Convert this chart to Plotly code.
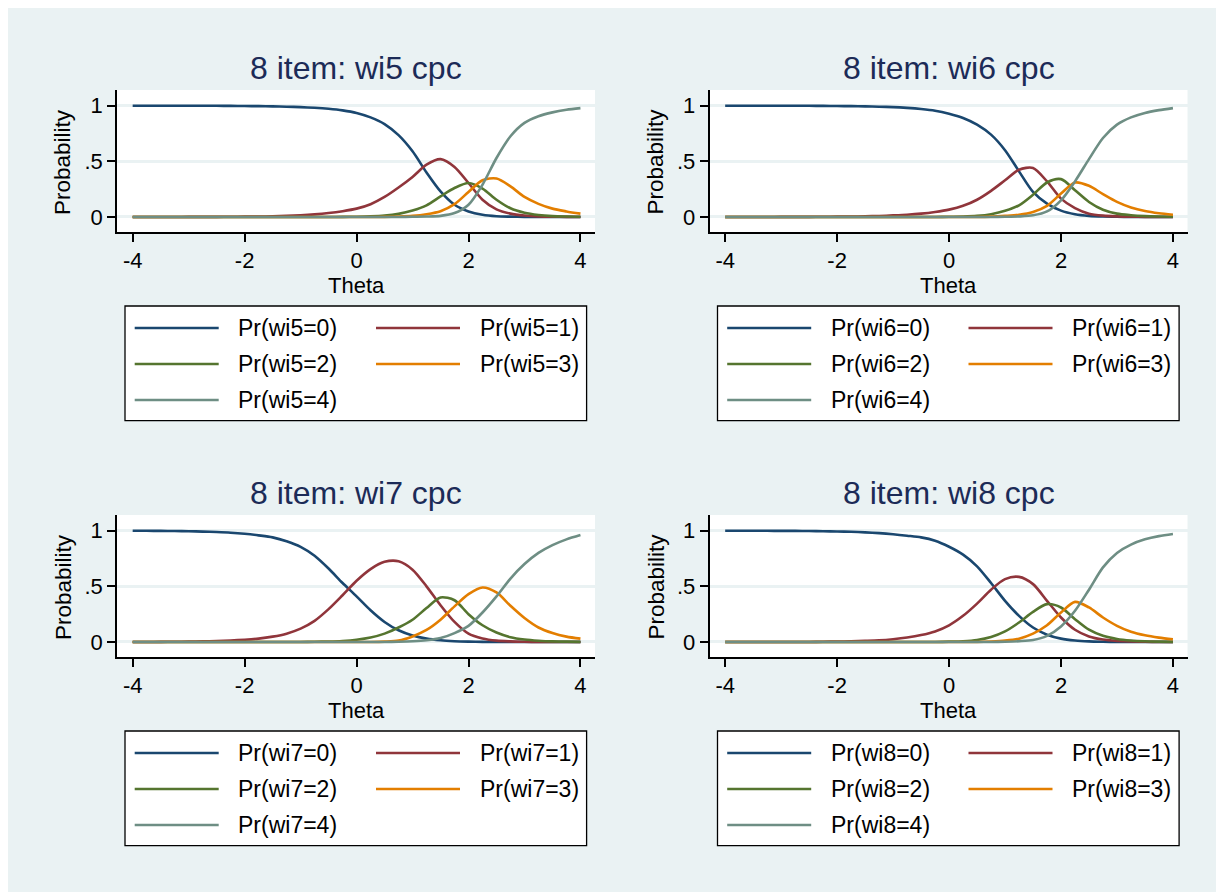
import plotly.graph_objects as go

W, H = 1224, 892

theta = [-4.0, -3.75, -3.5, -3.25, -3.0, -2.75, -2.5, -2.25, -2.0, -1.75, -1.5, -1.25, -1.0,
         -0.75, -0.5, -0.25, 0.0, 0.25, 0.5, 0.75, 1.0, 1.25, 1.5, 1.75, 2.0, 2.25, 2.5,
         2.75, 3.0, 3.25, 3.5, 3.75, 4.0]

# ---- item wi5 ----
wi5_p0 = [1.0, 1.0, 1.0, 1.0, 1.0, 0.999, 0.999, 0.998, 0.997, 0.996, 0.994, 0.991, 0.987, 0.981, 0.972,
          0.958, 0.935, 0.895, 0.835, 0.735, 0.59, 0.40, 0.23, 0.11, 0.05, 0.02, 0.007, 0.003, 0.001,
          0.0, 0.0, 0.0, 0.0]
wi5_p1 = [0.0, 0.0, 0.0, 0.0, 0.001, 0.001, 0.001, 0.002, 0.003, 0.004, 0.006, 0.01, 0.015, 0.023, 0.035,
          0.052, 0.075, 0.115, 0.18, 0.265, 0.36, 0.47, 0.52, 0.45, 0.305, 0.155, 0.068, 0.03, 0.013,
          0.005, 0.002, 0.001, 0.0]
wi5_p2 = [0, 0, 0, 0, 0, 0, 0, 0, 0, 0, 0, 0, 0, 0, 0, 0.001, 0.002, 0.005, 0.012, 0.028, 0.058, 0.105,
          0.185, 0.26, 0.305, 0.255, 0.155, 0.078, 0.038, 0.018, 0.008, 0.004, 0.002]
wi5_p3 = [0, 0, 0, 0, 0, 0, 0, 0, 0, 0, 0, 0, 0, 0, 0, 0, 0, 0, 0.001, 0.004, 0.01, 0.025, 0.052, 0.115,
          0.225, 0.33, 0.345, 0.275, 0.18, 0.118, 0.075, 0.05, 0.03]
wi5_p4 = [0, 0, 0, 0, 0, 0, 0, 0, 0, 0, 0, 0, 0, 0, 0, 0, 0, 0, 0, 0, 0.002, 0.004, 0.01, 0.035, 0.11,
          0.29, 0.53, 0.725, 0.845, 0.905, 0.94, 0.963, 0.978]

# ---- item wi6 ----
wi6_p0 = [1.0, 1.0, 1.0, 1.0, 1.0, 0.999, 0.999, 0.998, 0.997, 0.996, 0.994, 0.991, 0.987, 0.98, 0.97,
          0.955, 0.928, 0.89, 0.83, 0.74, 0.6, 0.41, 0.225, 0.12, 0.057, 0.025, 0.01, 0.004, 0.002,
          0.0, 0.0, 0.0, 0.0]
wi6_p1 = [0.0, 0.0, 0.0, 0.0, 0.001, 0.001, 0.001, 0.002, 0.003, 0.004, 0.006, 0.009, 0.014, 0.02, 0.03,
          0.045, 0.066, 0.1, 0.155, 0.235, 0.33, 0.425, 0.44, 0.32, 0.165, 0.08, 0.03, 0.012, 0.005,
          0.002, 0.001, 0.0, 0.0]
wi6_p2 = [0, 0, 0, 0, 0, 0, 0, 0, 0, 0, 0, 0, 0, 0, 0, 0, 0.002, 0.004, 0.01, 0.025, 0.055, 0.105, 0.2,
          0.31, 0.34, 0.24, 0.135, 0.065, 0.03, 0.016, 0.008, 0.004, 0.002]
wi6_p3 = [0, 0, 0, 0, 0, 0, 0, 0, 0, 0, 0, 0, 0, 0, 0, 0, 0, 0, 0, 0.003, 0.01, 0.02, 0.045, 0.1, 0.21,
          0.31, 0.28, 0.205, 0.135, 0.085, 0.053, 0.033, 0.02]
wi6_p4 = [0, 0, 0, 0, 0, 0, 0, 0, 0, 0, 0, 0, 0, 0, 0, 0, 0, 0, 0, 0, 0.002, 0.005, 0.015, 0.05, 0.15,
          0.32, 0.52, 0.71, 0.83, 0.895, 0.935, 0.96, 0.978]

# ---- item wi7 ----
wi7_p0 = [1.0, 0.999, 0.998, 0.997, 0.995, 0.992, 0.988, 0.982, 0.972, 0.958, 0.94, 0.905, 0.855, 0.775,
          0.66, 0.53, 0.41, 0.285, 0.18, 0.105, 0.058, 0.03, 0.015, 0.007, 0.003, 0.001, 0.0, 0.0, 0.0,
          0.0, 0.0, 0.0, 0.0]
wi7_p1 = [0.0, 0.0, 0.001, 0.002, 0.003, 0.005, 0.008, 0.013, 0.02, 0.03, 0.048, 0.075, 0.12, 0.19, 0.295,
          0.42, 0.55, 0.655, 0.72, 0.725, 0.65, 0.5, 0.33, 0.18, 0.075, 0.032, 0.012, 0.005, 0.002,
          0.0, 0.0, 0.0, 0.0]
wi7_p2 = [0, 0, 0, 0, 0, 0, 0, 0, 0, 0, 0, 0, 0, 0.002, 0.004, 0.009, 0.02, 0.04, 0.075, 0.13, 0.2, 0.305,
          0.4, 0.375, 0.25, 0.15, 0.085, 0.043, 0.022, 0.011, 0.005, 0.003, 0.001]
wi7_p3 = [0, 0, 0, 0, 0, 0, 0, 0, 0, 0, 0, 0, 0, 0, 0, 0, 0, 0, 0.003, 0.012, 0.05, 0.108, 0.2, 0.32,
          0.43, 0.49, 0.445, 0.325, 0.215, 0.13, 0.08, 0.048, 0.03]
wi7_p4 = [0, 0, 0, 0, 0, 0, 0, 0, 0, 0, 0, 0, 0, 0, 0, 0, 0, 0, 0, 0.002, 0.006, 0.015, 0.035, 0.08,
          0.145, 0.265, 0.41, 0.57, 0.7, 0.8, 0.87, 0.922, 0.961]

# ---- item wi8 ----
wi8_p0 = [1.0, 1.0, 0.999, 0.999, 0.998, 0.998, 0.997, 0.995, 0.993, 0.99, 0.985, 0.978, 0.968, 0.955,
          0.94, 0.91, 0.856, 0.785, 0.68, 0.53, 0.37, 0.235, 0.13, 0.065, 0.03, 0.013, 0.005, 0.002,
          0.0, 0.0, 0.0, 0.0, 0.0]
wi8_p1 = [0, 0, 0, 0, 0, 0, 0, 0.002, 0.004, 0.006, 0.01, 0.015, 0.025, 0.04, 0.062, 0.095, 0.15, 0.235,
          0.345, 0.47, 0.565, 0.585, 0.52, 0.37, 0.22, 0.11, 0.05, 0.022, 0.01, 0.004, 0.002, 0.0, 0.0]
wi8_p2 = [0, 0, 0, 0, 0, 0, 0, 0, 0, 0, 0, 0, 0, 0, 0, 0, 0.003, 0.007, 0.018, 0.045, 0.095, 0.175, 0.27,
          0.34, 0.31, 0.205, 0.11, 0.055, 0.027, 0.013, 0.006, 0.003, 0.001]
wi8_p3 = [0, 0, 0, 0, 0, 0, 0, 0, 0, 0, 0, 0, 0, 0, 0, 0, 0, 0, 0, 0.004, 0.012, 0.03, 0.075, 0.15, 0.265,
          0.36, 0.31, 0.22, 0.145, 0.092, 0.06, 0.039, 0.024]
wi8_p4 = [0, 0, 0, 0, 0, 0, 0, 0, 0, 0, 0, 0, 0, 0, 0, 0, 0, 0, 0, 0, 0.002, 0.007, 0.018, 0.055, 0.14,
          0.28, 0.47, 0.67, 0.8, 0.875, 0.922, 0.951, 0.97]

items = ["wi5", "wi6", "wi7", "wi8"]
titles = ["8 item: wi5 cpc", "8 item: wi6 cpc", "8 item: wi7 cpc", "8 item: wi8 cpc"]
series = [
    [wi5_p0, wi5_p1, wi5_p2, wi5_p3, wi5_p4],
    [wi6_p0, wi6_p1, wi6_p2, wi6_p3, wi6_p4],
    [wi7_p0, wi7_p1, wi7_p2, wi7_p3, wi7_p4],
    [wi8_p0, wi8_p1, wi8_p2, wi8_p3, wi8_p4],
]
categories = [0, 1, 2, 3, 4]
x_ticks = [-4, -2, 0, 2, 4]
y_ticks = [0, 0.5, 1]
y_ticktext = ["0", ".5", "1"]

colors = ["#1A476F", "#90353B", "#55752F", "#E37E00", "#6E8E84"]
BG = "#EAF2F3"
FONT = "Liberation Sans, Arial, Helvetica, sans-serif"

# the page body adds an 8px margin; screen-pixel positions are converted to paper fractions
OFF = 8

def px(x):
    return (x - OFF) / W

def py(y):
    return 1 - (y - OFF) / H

# panel geometry (screen pixels): left, right, top, bottom of plot area
panels = [
    (117, 595, 90, 232),
    (709.5, 1187.5, 90, 232),
    (117, 595, 515, 657),
    (709.5, 1187.5, 515, 657),
]

fig = go.Figure()
shapes = []
annotations = []
layout_axes = {}

for i, (L, R, T, B) in enumerate(panels):
    n = "" if i == 0 else str(i + 1)
    xa, ya = "x" + n, "y" + n
    for k, cat in enumerate(categories):
        fig.add_trace(go.Scatter(
            x=theta, y=series[i][k], mode="lines",
            line=dict(color=colors[k], width=2.6, shape="spline", smoothing=0.8),
            name=f"Pr({items[i]}={cat})", showlegend=False,
            xaxis=xa, yaxis=ya,
        ))
    layout_axes["xaxis" + n] = dict(
        domain=[px(L), px(R)], range=[-4.28, 4.26], anchor=ya,
        tickvals=x_ticks, ticktext=[str(v) for v in x_ticks],
        showline=True, linecolor="black", linewidth=1.5,
        ticks="outside", ticklen=8, tickwidth=1.5, tickcolor="black",
        showgrid=False, zeroline=False,
        tickfont=dict(family=FONT, size=22, color="black"),
    )
    layout_axes["yaxis" + n] = dict(
        domain=[py(B), py(T)], range=[-0.135, 1.141], anchor=xa,
        tickvals=y_ticks, ticktext=y_ticktext,
        showline=True, linecolor="black", linewidth=1.5,
        ticks="outside", ticklen=8, tickwidth=1.5, tickcolor="black",
        showgrid=True, gridcolor=BG, gridwidth=2.5, zeroline=False,
        tickfont=dict(family=FONT, size=22, color="black"),
    )
    cx = (L + R) / 2
    # title
    annotations.append(dict(text=titles[i], x=px(cx), y=py(T - 22), xref="paper", yref="paper",
                            xanchor="center", yanchor="middle", showarrow=False,
                            font=dict(family=FONT, size=32, color="#1C2B57")))
    # axis titles
    annotations.append(dict(text="Theta", x=px(cx), y=py(B + 53), xref="paper", yref="paper",
                            xanchor="center", yanchor="middle", showarrow=False,
                            font=dict(family=FONT, size=22, color="black")))
    annotations.append(dict(text="Probability", x=px(L - 54), y=py((T + B) / 2 + 1), xref="paper",
                            yref="paper", xanchor="center", yanchor="middle", showarrow=False,
                            textangle=-90, font=dict(family=FONT, size=22.5, color="black")))
    # legend box
    lx0, lx1 = L + 8, L + 469.6
    ly0 = B + 74
    ly1 = ly0 + 114.7
    shapes.append(dict(type="rect", xref="paper", yref="paper", x0=px(lx0), x1=px(lx1),
                       y0=py(ly1), y1=py(ly0), fillcolor="white",
                       line=dict(color="black", width=1.3), layer="above"))
    for k, cat in enumerate(categories):
        col, row = k % 2, k // 2
        sx0 = L + 17.7 + col * 241.3
        ry = ly0 + 22 + row * 36
        shapes.append(dict(type="line", xref="paper", yref="paper", x0=px(sx0), x1=px(sx0 + 84),
                           y0=py(ry), y1=py(ry), line=dict(color=colors[k], width=2.6), layer="above"))
        annotations.append(dict(text=f"Pr({items[i]}={cat})", x=px(sx0 + 101.5), y=py(ry),
                                xref="paper", yref="paper", xanchor="left", yanchor="middle",
                                showarrow=False, font=dict(family=FONT, size=23, color="black")))

fig.update_layout(
    width=W, height=H, autosize=False,
    margin=dict(l=0, r=0, t=0, b=0),
    paper_bgcolor=BG, plot_bgcolor="white",
    showlegend=False,
    shapes=shapes, annotations=annotations,
    font=dict(family=FONT, size=22, color="black"),
    **layout_axes,
)

fig.write_html("out.html")
